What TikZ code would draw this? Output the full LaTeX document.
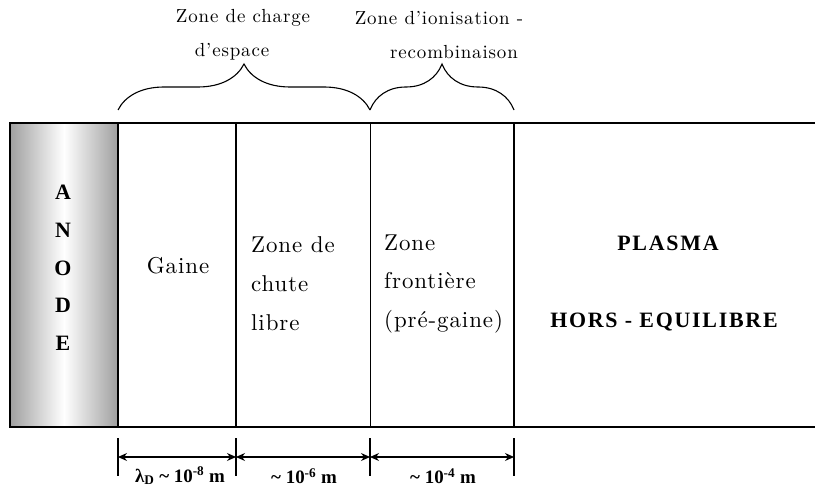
\documentclass[tikz,border=0pt]{standalone}
\usepackage{fontspec}
\newfontfamily\tms{Liberation Serif}
\newfontfamily\tmsspaced{Liberation Serif}[LetterSpace=8]
\newfontfamily\lmtop{lmroman10-regular}[Extension=.otf, Ligatures=TeX, LetterSpace=4.5]
\newfontfamily\lmzone{lmroman10-regular}[Extension=.otf, Ligatures=TeX, LetterSpace=4]
\usetikzlibrary{decorations.pathreplacing,arrows.meta}
\tikzset{
  wall/.style={draw=black, line width=1.3bp},
  thinwall/.style={draw=black, line width=0.8bp},
  bracestyle/.style={draw, line width=1.1bp, decorate, decoration={brace, amplitude=46bp}},
  tick/.style={draw, line width=1.1bp},
  dim/.style={draw, line width=1.1bp, {Stealth[length=9bp,width=8bp]}-{Stealth[length=9bp,width=8bp]}},
  lbl/.style={font=\lmtop\fontsize{19}{22}\selectfont, inner sep=0pt},
  zonetxt/.style={font=\lmzone\fontsize{23}{39}\selectfont, align=left, inner sep=0pt, anchor=west},
  boldtxt/.style={font=\tmsspaced\bfseries\fontsize{22}{26}\selectfont, inner sep=0pt},
  dimtxt/.style={font=\tms\bfseries\fontsize{19}{22}\selectfont, inner sep=0pt},
}
\begin{document}
\begin{tikzpicture}[x=1bp,y=-1bp]
\useasboundingbox (0,0) rectangle (815,488);
% anode
\shade[left color=gray!75, right color=gray!75, middle color=white] (10,123) rectangle (118,427);
\draw[wall] (10,123) rectangle (118,427);
\node[boldtxt] (A) at (63,192) {A};
\node[boldtxt] (N) at (63,230) {N};
\node[boldtxt] (O) at (63,268) {O};
\node[boldtxt] (D) at (63,305) {D};
\node[boldtxt] (E) at (63,343) {E};
% outer lines
\draw[wall] (118,123) -- (815,123);
\draw[wall] (118,427) -- (815,427);
\draw[wall] (236,123) -- (236,427);
\draw[thinwall] (370,123) -- (370,427);
\draw[wall] (514,123) -- (514,427);
% zone texts
\node[zonetxt, anchor=center] (gaine) at (178,266) {Gaine};
\node[zonetxt] (chute) at (251,284) {Zone de\\chute\\libre};
\node[zonetxt] (front) at (384,284) {Zone\\frontière\\(pré-gaine)};
\node[boldtxt] (plasma) at (668,243) {PLASMA};
\node[boldtxt] (hors) at (664,322) {HORS - EQUILIBRE};
% braces
\coordinate (b1) at (118,110);
\coordinate (b2) at (370,110);
\coordinate (b3) at (514,110);
\draw[bracestyle] (b1) -- (b2);
\draw[bracestyle] (b2) -- (b3);
\node[lbl] (zc1) at (243,18) {Zone de charge};
\node[lbl] (zc2) at (232,52) {d’espace};
\node[lbl] (zi1) at (439,18) {Zone d’ionisation -};
\node[lbl] (zi2) at (454,52) {recombinaison};
% dimension ticks
\foreach \n/\x in {t1/118,t2/236,t3/370,t4/514}{
  \coordinate (\n top) at (\x,438);
  \coordinate (\n bot) at (\x,476);
  \coordinate (\n mid) at (\x,457);
  \draw[tick] (\n top) -- (\n bot);
}
\draw[dim] (t1mid) -- (t2mid);
\draw[dim] (t2mid) -- (t3mid);
\draw[dim] (t3mid) -- (t4mid);
\node[dimtxt] (d1) at (180,476) {λ\textsubscript{D} \textasciitilde{} 10\textsuperscript{-8} m};
\node[dimtxt] (d2) at (304,476) {\textasciitilde{} 10\textsuperscript{-6} m};
\node[dimtxt] (d3) at (443,476) {\textasciitilde{} 10\textsuperscript{-4} m};
\end{tikzpicture}
\end{document}
